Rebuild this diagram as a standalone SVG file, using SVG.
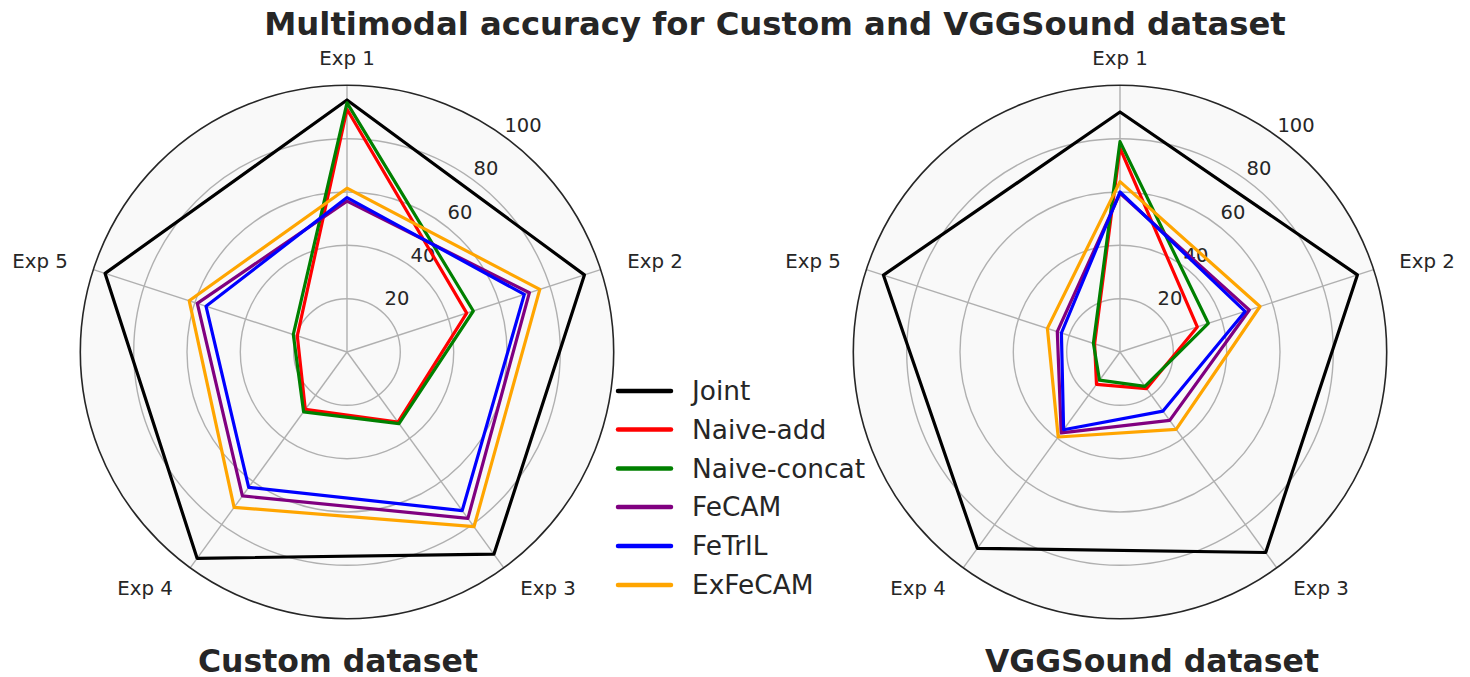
<svg xmlns="http://www.w3.org/2000/svg" width="1470" height="677" viewBox="0 0 1470 677">
<style>
  text { font-family: "DejaVu Sans", "Liberation Sans", sans-serif; fill: #262626; }
  .title { font-size: 32.3px; font-weight: bold; }
  .sub { font-size: 31.5px; font-weight: bold; text-anchor: middle; }
  .axl { font-size: 19.8px; text-anchor: middle; }
  .rl { font-size: 19.5px; text-anchor: middle; }
  .leg { font-size: 26.4px; }
  .bg { fill: #f9f9f9; stroke: none; }
  .outer { fill: none; stroke: #262626; stroke-width: 1.6; }
  .ring { fill: none; stroke: #b0b0b0; stroke-width: 1.4; }
  .spoke { stroke: #b0b0b0; stroke-width: 1.4; }
  .s { fill: none; stroke-width: 3.2; stroke-linejoin: round; stroke-linecap: round; }
  .joint { stroke: #000000; }
  .nadd { stroke: #ff0000; }
  .ncat { stroke: #008000; }
  .fecam { stroke: #800080; }
  .fetril { stroke: #0000ff; }
  .exfecam { stroke: #ffa500; }
  .lg { stroke-width: 4.5; stroke-linecap: round; }
</style>

<text class="title" x="775" y="35" text-anchor="middle">Multimodal accuracy for Custom and VGGSound dataset</text>

<!-- Left chart -->
<g id="chart-custom">
  <circle class="bg" cx="347" cy="352" r="266.7"/>
  <g id="grid-left">
    <circle class="ring" cx="347" cy="352" r="53.3"/>
    <circle class="ring" cx="347" cy="352" r="106.7"/>
    <circle class="ring" cx="347" cy="352" r="160"/>
    <circle class="ring" cx="347" cy="352" r="213.3"/>
    <line class="spoke" x1="347" y1="352" x2="347" y2="85.3"/>
    <line class="spoke" x1="347" y1="352" x2="600.6" y2="269.6"/>
    <line class="spoke" x1="347" y1="352" x2="503.8" y2="567.8"/>
    <line class="spoke" x1="347" y1="352" x2="190.2" y2="567.8"/>
    <line class="spoke" x1="347" y1="352" x2="93.4" y2="269.6"/>
    <circle class="outer" cx="347" cy="352" r="266.7"/>
  </g>
  <g id="rlabels-left">
    <text class="rl" x="397" y="305">20</text>
    <text class="rl" x="423" y="262">40</text>
    <text class="rl" x="460" y="219">60</text>
    <text class="rl" x="486" y="175">80</text>
    <text class="rl" x="523" y="132">100</text>
  </g>
  <g id="axlabels-left">
    <text class="axl" x="347" y="65">Exp 1</text>
    <text class="axl" x="655" y="268">Exp 2</text>
    <text class="axl" x="548" y="595">Exp 3</text>
    <text class="axl" x="145" y="595">Exp 4</text>
    <text class="axl" x="40" y="268">Exp 5</text>
  </g>
  <g id="series-left">
    <polygon class="s joint" points="347,100 584.4,274.9 493.9,554.2 197.1,558.3 105.1,273.4"/>
    <polygon class="s nadd" points="347,109.3 466.7,313.1 398,422.1 305.3,409.4 297.3,335.8"/>
    <polygon class="s ncat" points="347,102.9 473.3,311 399,423.6 303.6,411.8 293.3,334.5"/>
    <polygon class="s fecam" points="347,201.1 529.4,292.7 467.9,518.3 242.4,495.9 197.3,303.4"/>
    <polygon class="s fetril" points="347,197.6 524.3,294.4 462.2,510.6 248.7,487.3 206,306.2"/>
    <polygon class="s exfecam" points="347,188.2 539.8,289.4 474,526.7 234.1,507.3 189.2,300.7"/>
  </g>
  <text class="sub" x="338" y="672">Custom dataset</text>
</g>

<!-- Right chart -->
<g id="chart-vggsound">
  <circle class="bg" cx="1120" cy="352" r="266.7"/>
  <g id="grid-right">
    <circle class="ring" cx="1120" cy="352" r="53.3"/>
    <circle class="ring" cx="1120" cy="352" r="106.7"/>
    <circle class="ring" cx="1120" cy="352" r="160"/>
    <circle class="ring" cx="1120" cy="352" r="213.3"/>
    <line class="spoke" x1="1120" y1="352" x2="1120" y2="85.3"/>
    <line class="spoke" x1="1120" y1="352" x2="1373.6" y2="269.6"/>
    <line class="spoke" x1="1120" y1="352" x2="1276.8" y2="567.8"/>
    <line class="spoke" x1="1120" y1="352" x2="963.2" y2="567.8"/>
    <line class="spoke" x1="1120" y1="352" x2="866.4" y2="269.6"/>
    <circle class="outer" cx="1120" cy="352" r="266.7"/>
  </g>
  <g id="rlabels-right">
    <text class="rl" x="1170" y="305">20</text>
    <text class="rl" x="1196" y="262">40</text>
    <text class="rl" x="1233" y="219">60</text>
    <text class="rl" x="1259" y="175">80</text>
    <text class="rl" x="1296" y="132">100</text>
  </g>
  <g id="axlabels-right">
    <text class="axl" x="1120" y="65">Exp 1</text>
    <text class="axl" x="1427" y="268">Exp 2</text>
    <text class="axl" x="1321" y="595">Exp 3</text>
    <text class="axl" x="918" y="595">Exp 4</text>
    <text class="axl" x="813" y="268">Exp 5</text>
  </g>
  <g id="series-right">
    <polygon class="s joint" points="1120,112 1357.4,274.9 1265.7,552.5 977.3,548.3 883.4,275.1"/>
    <polygon class="s nadd" points="1120,148.2 1197.3,326.9 1146.6,388.6 1096.5,384.4 1094.6,343.7"/>
    <polygon class="s ncat" points="1120,141.6 1208.3,323.3 1144.9,386.3 1099.5,380.2 1093.4,343.3"/>
    <polygon class="s fecam" points="1120,193.3 1249.3,310 1169.7,420.4 1061.2,432.9 1057.3,331.6"/>
    <polygon class="s fetril" points="1120,192 1245.1,311.4 1163,411.1 1063.6,429.7 1061.4,333"/>
    <polygon class="s exfecam" points="1120,181.6 1260,306.5 1176.1,429.3 1058.2,437 1047.4,328.4"/>
  </g>
  <text class="sub" x="1152" y="672">VGGSound dataset</text>
</g>

<!-- Legend -->
<g id="legend">
  <line class="lg joint" x1="618" y1="391" x2="671" y2="391"/>
  <text class="leg" x="692" y="400">Joint</text>
  <line class="lg nadd" x1="618" y1="429.5" x2="671" y2="429.5"/>
  <text class="leg" x="692" y="438.5">Naive-add</text>
  <line class="lg ncat" x1="618" y1="468.5" x2="671" y2="468.5"/>
  <text class="leg" x="692" y="477.5">Naive-concat</text>
  <line class="lg fecam" x1="618" y1="507" x2="671" y2="507"/>
  <text class="leg" x="692" y="516">FeCAM</text>
  <line class="lg fetril" x1="618" y1="546" x2="671" y2="546"/>
  <text class="leg" x="692" y="555">FeTrIL</text>
  <line class="lg exfecam" x1="618" y1="585" x2="671" y2="585"/>
  <text class="leg" x="692" y="594">ExFeCAM</text>
</g>
</svg>
